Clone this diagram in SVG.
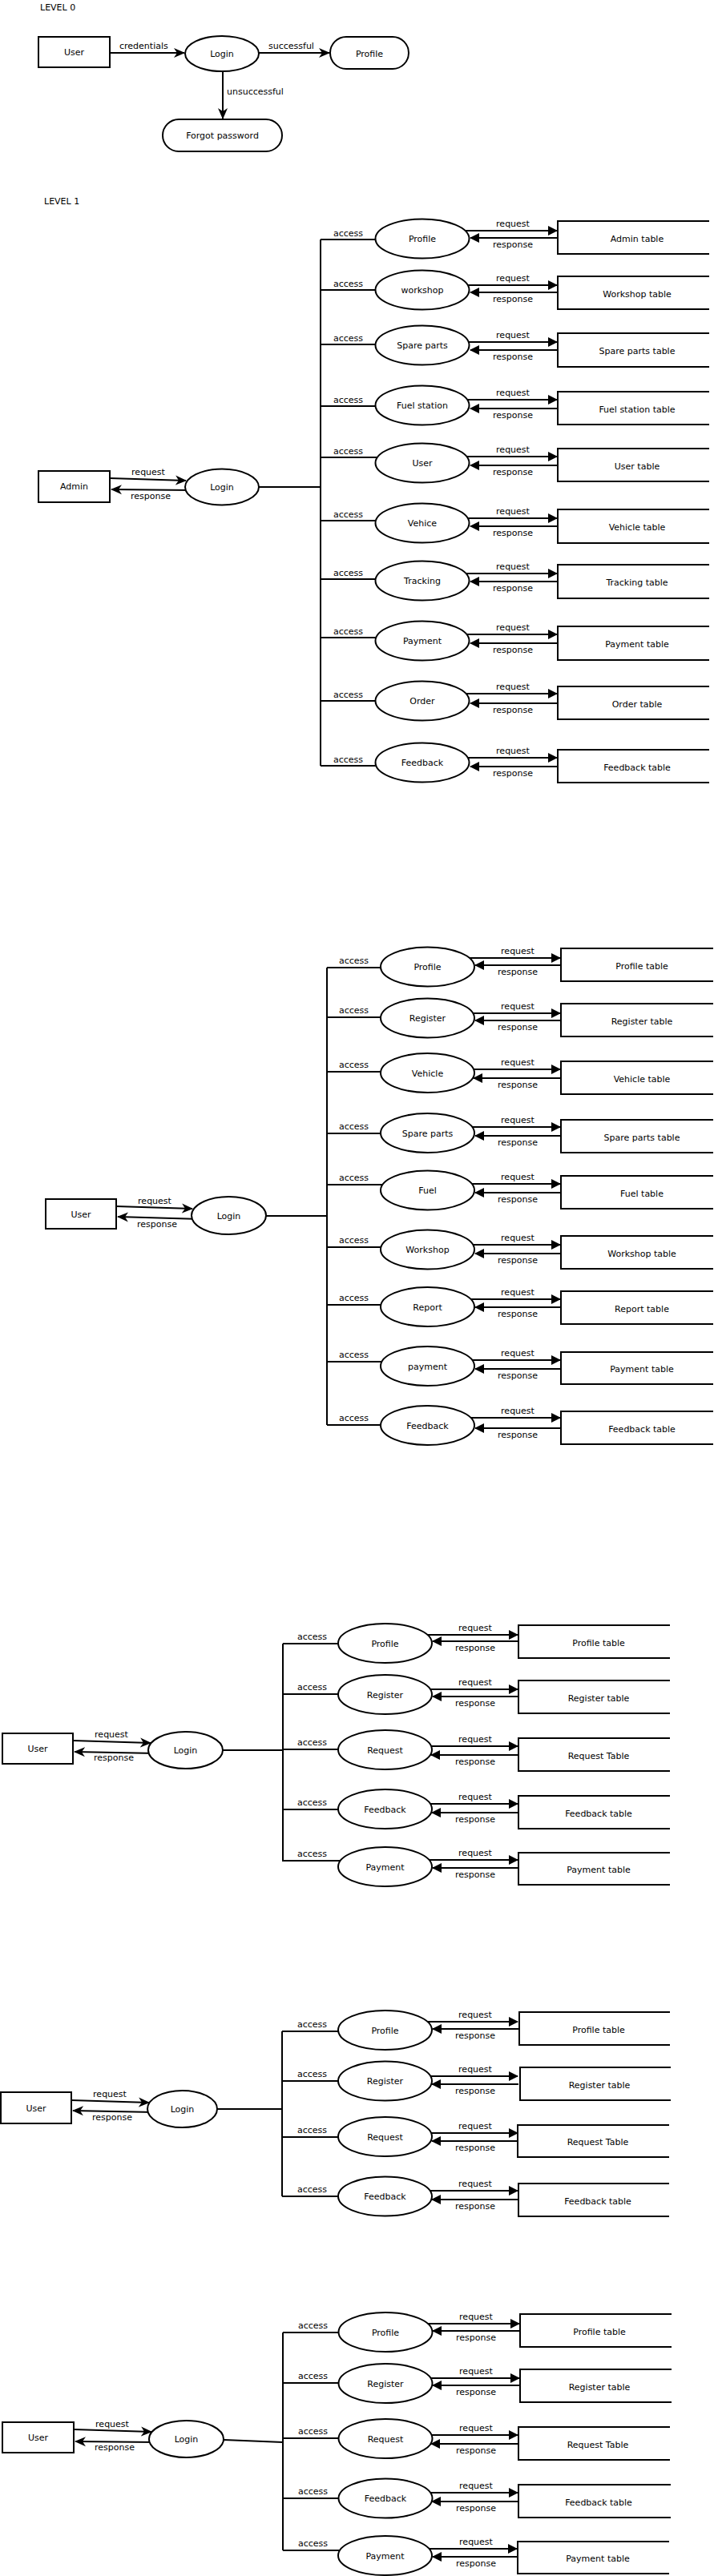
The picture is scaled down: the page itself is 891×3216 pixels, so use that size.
<svg xmlns="http://www.w3.org/2000/svg" width="891" height="3216" viewBox="0 0 891 3216">
<style>
text{font-family:"DejaVu Sans",Verdana,"Liberation Sans",sans-serif;font-size:11px;fill:#000}
.m{text-anchor:middle}
.n{fill:#fff;stroke:#000;stroke-width:2}
.c{fill:none;stroke:#000;stroke-width:2}
.t{fill:none;stroke:#000;stroke-width:2}
</style>
<defs>
<marker id="tri" markerUnits="userSpaceOnUse" markerWidth="13" markerHeight="13" refX="11" refY="6" orient="auto"><path d="M0,0 L12,6 L0,12 z" fill="#000"/></marker>
<marker id="st" markerUnits="userSpaceOnUse" markerWidth="15" markerHeight="15" refX="13" refY="7" orient="auto"><path d="M0,1 L14,7 L0,13 L4,7 z" fill="#000"/></marker>
</defs>
<rect width="891" height="3216" fill="#fff"/>

<!-- LEVEL 0 -->
<text x="50" y="13">LEVEL 0</text>
<g id="l0-connectors">
<path class="c" d="M137,66H230" marker-end="url(#st)"/>
<text x="149" y="61">credentials</text>
<path class="c" d="M323,66H411" marker-end="url(#st)"/>
<text x="335" y="61">successful</text>
<path class="c" d="M278,89V148" marker-end="url(#st)"/>
<text x="283" y="118">unsuccessful</text>
</g>
<g id="l0-user"><rect class="n" x="48" y="46" width="89" height="38"/><text class="m" x="92.5" y="69">User</text></g>
<g id="l0-login"><ellipse class="n" cx="277" cy="67" rx="46" ry="22"/><text class="m" x="277" y="71">Login</text></g>
<g id="l0-profile"><rect class="n" x="412" y="46" width="98" height="40" rx="20"/><text class="m" x="461" y="71">Profile</text></g>
<g id="l0-forgot"><rect class="n" x="203" y="149" width="149" height="40" rx="20"/><text class="m" x="277.5" y="173">Forgot password</text></g>

<!-- LEVEL 1 -->
<text x="55" y="255">LEVEL 1</text>
<g id="l1-connectors">
<path class="c" d="M137,597L232,600" marker-end="url(#st)"/>
<text class="m" x="185" y="593">request</text>
<path class="c" d="M240,612L139,611" marker-end="url(#st)"/>
<text class="m" x="188" y="623">response</text>
<path class="c" d="M300,608H400M400,299V956"/>
<path class="c" d="M400,299H482M400,362H482M400,430H482M400,507H482M400,571H482M400,650H482M400,723H482M400,796H482M400,875H482M400,956H482"/>
<text x="416" y="295">access</text><text x="416" y="358">access</text><text x="416" y="426">access</text><text x="416" y="503">access</text><text x="416" y="567">access</text><text x="416" y="646">access</text><text x="416" y="719">access</text><text x="416" y="792">access</text><text x="416" y="871">access</text><text x="416" y="952">access</text>
<g marker-end="url(#tri)">
<path class="c" d="M575,288H695"/><path class="c" d="M696,297H587"/>
<path class="c" d="M575,356H695"/><path class="c" d="M696,365H587"/>
<path class="c" d="M575,427H695"/><path class="c" d="M696,437H587"/>
<path class="c" d="M575,499H695"/><path class="c" d="M696,510H587"/>
<path class="c" d="M575,570H695"/><path class="c" d="M696,581H587"/>
<path class="c" d="M575,647H695"/><path class="c" d="M696,657H587"/>
<path class="c" d="M575,716H695"/><path class="c" d="M696,726H587"/>
<path class="c" d="M575,792H695"/><path class="c" d="M696,803H587"/>
<path class="c" d="M575,866H695"/><path class="c" d="M696,878H587"/>
<path class="c" d="M575,946H695"/><path class="c" d="M696,957H587"/>
</g>
<text class="m" x="640" y="283">request</text><text class="m" x="640" y="309">response</text>
<text class="m" x="640" y="351">request</text><text class="m" x="640" y="377">response</text>
<text class="m" x="640" y="422">request</text><text class="m" x="640" y="449">response</text>
<text class="m" x="640" y="494">request</text><text class="m" x="640" y="522">response</text>
<text class="m" x="640" y="565">request</text><text class="m" x="640" y="593">response</text>
<text class="m" x="640" y="642">request</text><text class="m" x="640" y="669">response</text>
<text class="m" x="640" y="711">request</text><text class="m" x="640" y="738">response</text>
<text class="m" x="640" y="787">request</text><text class="m" x="640" y="815">response</text>
<text class="m" x="640" y="861">request</text><text class="m" x="640" y="890">response</text>
<text class="m" x="640" y="941">request</text><text class="m" x="640" y="969">response</text>
</g>
<g id="l1-admin"><rect class="n" x="48" y="588" width="89" height="39"/><text class="m" x="92.5" y="611">Admin</text></g>
<g id="l1-login"><ellipse class="n" cx="277" cy="608" rx="46" ry="22.5"/><text class="m" x="277" y="612">Login</text></g>
<g id="l1-p1"><ellipse class="n" cx="527" cy="298" rx="58.5" ry="24.5"/><text class="m" x="527" y="302">Profile</text></g>
<g id="l1-p2"><ellipse class="n" cx="527" cy="362" rx="58.5" ry="24.5"/><text class="m" x="527" y="366">workshop</text></g>
<g id="l1-p3"><ellipse class="n" cx="527" cy="431" rx="58.5" ry="24.5"/><text class="m" x="527" y="435">Spare parts</text></g>
<g id="l1-p4"><ellipse class="n" cx="527" cy="506" rx="58.5" ry="24.5"/><text class="m" x="527" y="510">Fuel station</text></g>
<g id="l1-p5"><ellipse class="n" cx="527" cy="578" rx="58.5" ry="24.5"/><text class="m" x="527" y="582">User</text></g>
<g id="l1-p6"><ellipse class="n" cx="527" cy="653" rx="58.5" ry="24.5"/><text class="m" x="527" y="657">Vehice</text></g>
<g id="l1-p7"><ellipse class="n" cx="527" cy="725" rx="58.5" ry="24.5"/><text class="m" x="527" y="729">Tracking</text></g>
<g id="l1-p8"><ellipse class="n" cx="527" cy="800" rx="58.5" ry="24.5"/><text class="m" x="527" y="804">Payment</text></g>
<g id="l1-p9"><ellipse class="n" cx="527" cy="875" rx="58.5" ry="24.5"/><text class="m" x="527" y="879">Order</text></g>
<g id="l1-p10"><ellipse class="n" cx="527" cy="952" rx="58.5" ry="24.5"/><text class="m" x="527" y="956">Feedback</text></g>
<g id="l1-t1"><path class="t" d="M885,276H696V317H885"/><text class="m" x="795" y="301.5">Admin table</text></g>
<g id="l1-t2"><path class="t" d="M885,345H696V386H885"/><text class="m" x="795" y="370.5">Workshop table</text></g>
<g id="l1-t3"><path class="t" d="M885,416H696V458H885"/><text class="m" x="795" y="442">Spare parts table</text></g>
<g id="l1-t4"><path class="t" d="M885,489H696V530H885"/><text class="m" x="795" y="514.5">Fuel station table</text></g>
<g id="l1-t5"><path class="t" d="M885,560H696V601H885"/><text class="m" x="795" y="585.5">User table</text></g>
<g id="l1-t6"><path class="t" d="M885,636H696V678H885"/><text class="m" x="795" y="662">Vehicle table</text></g>
<g id="l1-t7"><path class="t" d="M885,705H696V747H885"/><text class="m" x="795" y="731">Tracking table</text></g>
<g id="l1-t8"><path class="t" d="M885,782H696V824H885"/><text class="m" x="795" y="808">Payment table</text></g>
<g id="l1-t9"><path class="t" d="M885,857H696V898H885"/><text class="m" x="795" y="882.5">Order table</text></g>
<g id="l1-t10"><path class="t" d="M885,936H696V977H885"/><text class="m" x="795" y="961.5">Feedback table</text></g>

<!-- SECTION 3 -->
<g id="s3-connectors">
<path class="c" d="M145,1506L240,1509" marker-end="url(#st)"/>
<text class="m" x="193" y="1503">request</text>
<path class="c" d="M250,1522L147,1519" marker-end="url(#st)"/>
<text class="m" x="196" y="1532">response</text>
<path class="c" d="M300,1518H408M408,1208V1779"/>
<path class="c" d="M408,1208H489M408,1270H489M408,1338H489M408,1415H489M408,1479H489M408,1557H489M408,1629H489M408,1700H489M408,1779H489"/>
<text x="423" y="1203">access</text><text x="423" y="1265">access</text><text x="423" y="1333">access</text><text x="423" y="1410">access</text><text x="423" y="1474">access</text><text x="423" y="1552">access</text><text x="423" y="1624">access</text><text x="423" y="1695">access</text><text x="423" y="1774">access</text>
<g marker-end="url(#tri)">
<path class="c" d="M581,1196H699"/><path class="c" d="M700,1205H593"/>
<path class="c" d="M581,1265H699"/><path class="c" d="M700,1274H593"/>
<path class="c" d="M581,1335H699"/><path class="c" d="M700,1346H591"/>
<path class="c" d="M581,1407H699"/><path class="c" d="M700,1418H593"/>
<path class="c" d="M581,1478H699"/><path class="c" d="M700,1489H593"/>
<path class="c" d="M581,1554H699"/><path class="c" d="M700,1565H593"/>
<path class="c" d="M581,1622H699"/><path class="c" d="M700,1632H593"/>
<path class="c" d="M581,1698H699"/><path class="c" d="M700,1709H593"/>
<path class="c" d="M581,1770H699"/><path class="c" d="M700,1783H593"/>
</g>
<text class="m" x="646" y="1191">request</text><text class="m" x="646" y="1217">response</text>
<text class="m" x="646" y="1260">request</text><text class="m" x="646" y="1286">response</text>
<text class="m" x="646" y="1330">request</text><text class="m" x="646" y="1358">response</text>
<text class="m" x="646" y="1402">request</text><text class="m" x="646" y="1430">response</text>
<text class="m" x="646" y="1473">request</text><text class="m" x="646" y="1501">response</text>
<text class="m" x="646" y="1549">request</text><text class="m" x="646" y="1577">response</text>
<text class="m" x="646" y="1617">request</text><text class="m" x="646" y="1644">response</text>
<text class="m" x="646" y="1693">request</text><text class="m" x="646" y="1721">response</text>
<text class="m" x="646" y="1765">request</text><text class="m" x="646" y="1795">response</text>
</g>
<g id="s3-user"><rect class="n" x="57" y="1497" width="88" height="37"/><text class="m" x="101" y="1520">User</text></g>
<g id="s3-login"><ellipse class="n" cx="285.5" cy="1517.5" rx="46.5" ry="23.5"/><text class="m" x="285.5" y="1521.5">Login</text></g>
<g id="s3-p1"><ellipse class="n" cx="533.5" cy="1207" rx="58.5" ry="24.5"/><text class="m" x="533.5" y="1211">Profile</text></g>
<g id="s3-p2"><ellipse class="n" cx="533.5" cy="1271" rx="58.5" ry="24.5"/><text class="m" x="533.5" y="1275">Register</text></g>
<g id="s3-p3"><ellipse class="n" cx="533.5" cy="1339.5" rx="58.5" ry="24.5"/><text class="m" x="533.5" y="1343.5">Vehicle</text></g>
<g id="s3-p4"><ellipse class="n" cx="533.5" cy="1414.5" rx="58.5" ry="24.5"/><text class="m" x="533.5" y="1418.5">Spare parts</text></g>
<g id="s3-p5"><ellipse class="n" cx="533.5" cy="1486" rx="58.5" ry="24.5"/><text class="m" x="533.5" y="1490">Fuel</text></g>
<g id="s3-p6"><ellipse class="n" cx="533.5" cy="1560" rx="58.5" ry="24.5"/><text class="m" x="533.5" y="1564">Workshop</text></g>
<g id="s3-p7"><ellipse class="n" cx="533.5" cy="1631.5" rx="58.5" ry="24.5"/><text class="m" x="533.5" y="1635.5">Report</text></g>
<g id="s3-p8"><ellipse class="n" cx="533.5" cy="1705.5" rx="58.5" ry="24.5"/><text class="m" x="533.5" y="1709.5">payment</text></g>
<g id="s3-p9"><ellipse class="n" cx="533.5" cy="1779.5" rx="58.5" ry="24.5"/><text class="m" x="533.5" y="1783.5">Feedback</text></g>
<g id="s3-t1"><path class="t" d="M890,1184H700V1225H890"/><text class="m" x="801" y="1209.5">Profile table</text></g>
<g id="s3-t2"><path class="t" d="M890,1253H700V1294H890"/><text class="m" x="801" y="1278.5">Register table</text></g>
<g id="s3-t3"><path class="t" d="M890,1325H700V1366H890"/><text class="m" x="801" y="1350.5">Vehicle table</text></g>
<g id="s3-t4"><path class="t" d="M890,1398H700V1439H890"/><text class="m" x="801" y="1423.5">Spare parts table</text></g>
<g id="s3-t5"><path class="t" d="M890,1468H700V1509H890"/><text class="m" x="801" y="1493.5">Fuel table</text></g>
<g id="s3-t6"><path class="t" d="M890,1543H700V1584H890"/><text class="m" x="801" y="1568.5">Workshop table</text></g>
<g id="s3-t7"><path class="t" d="M890,1612H700V1653H890"/><text class="m" x="801" y="1637.5">Report table</text></g>
<g id="s3-t8"><path class="t" d="M890,1688H700V1728H890"/><text class="m" x="801" y="1713">Payment table</text></g>
<g id="s3-t9"><path class="t" d="M890,1762H700V1803H890"/><text class="m" x="801" y="1787.5">Feedback table</text></g>

<!-- SECTION 4 -->
<g id="s4-connectors">
<path class="c" d="M91,2173L188,2176" marker-end="url(#st)"/>
<text class="m" x="139" y="2169">request</text>
<path class="c" d="M195,2189L93,2187" marker-end="url(#st)"/>
<text class="m" x="142" y="2198">response</text>
<path class="c" d="M250,2185H353M353,2052V2324"/>
<path class="c" d="M353,2052H436M353,2115H436M353,2184H436M353,2259H436M353,2323H436"/>
<text x="371" y="2047">access</text><text x="371" y="2110">access</text><text x="371" y="2179">access</text><text x="371" y="2254">access</text><text x="371" y="2318">access</text>
<g marker-end="url(#tri)">
<path class="c" d="M528,2041H646"/><path class="c" d="M647,2049H540"/>
<path class="c" d="M528,2109H646"/><path class="c" d="M647,2118H540"/>
<path class="c" d="M528,2180H646"/><path class="c" d="M647,2191H538"/>
<path class="c" d="M528,2252H646"/><path class="c" d="M647,2263H539"/>
<path class="c" d="M528,2322H646"/><path class="c" d="M647,2332H540"/>
</g>
<text class="m" x="593" y="2036">request</text><text class="m" x="593" y="2061">response</text>
<text class="m" x="593" y="2104">request</text><text class="m" x="593" y="2130">response</text>
<text class="m" x="593" y="2175">request</text><text class="m" x="593" y="2203">response</text>
<text class="m" x="593" y="2247">request</text><text class="m" x="593" y="2275">response</text>
<text class="m" x="593" y="2317">request</text><text class="m" x="593" y="2344">response</text>
</g>
<g id="s4-user"><rect class="n" x="3" y="2164" width="88" height="38"/><text class="m" x="47" y="2187">User</text></g>
<g id="s4-login"><ellipse class="n" cx="231.5" cy="2185" rx="46.5" ry="23"/><text class="m" x="231.5" y="2189">Login</text></g>
<g id="s4-p1"><ellipse class="n" cx="480.5" cy="2051.5" rx="58.5" ry="24.5"/><text class="m" x="480.5" y="2055.5">Profile</text></g>
<g id="s4-p2"><ellipse class="n" cx="480.5" cy="2115.5" rx="58.5" ry="24.5"/><text class="m" x="480.5" y="2119.5">Register</text></g>
<g id="s4-p3"><ellipse class="n" cx="480.5" cy="2184.5" rx="58.5" ry="24.5"/><text class="m" x="480.5" y="2188.5">Request</text></g>
<g id="s4-p4"><ellipse class="n" cx="480.5" cy="2258.5" rx="58.5" ry="24.5"/><text class="m" x="480.5" y="2262.5">Feedback</text></g>
<g id="s4-p5"><ellipse class="n" cx="480.5" cy="2330.5" rx="58.5" ry="24.5"/><text class="m" x="480.5" y="2334.5">Payment</text></g>
<g id="s4-t1"><path class="t" d="M836,2029H647V2070H836"/><text class="m" x="747" y="2054.5">Profile table</text></g>
<g id="s4-t2"><path class="t" d="M836,2098H647V2139H836"/><text class="m" x="747" y="2123.5">Register table</text></g>
<g id="s4-t3"><path class="t" d="M836,2170H647V2211H836"/><text class="m" x="747" y="2195.5">Request Table</text></g>
<g id="s4-t4"><path class="t" d="M836,2242H647V2283H836"/><text class="m" x="747" y="2267.5">Feedback table</text></g>
<g id="s4-t5"><path class="t" d="M836,2313H647V2353H836"/><text class="m" x="747" y="2338">Payment table</text></g>

<!-- SECTION 5 -->
<g id="s5-connectors">
<path class="c" d="M89,2622L186,2625" marker-end="url(#st)"/>
<text class="m" x="137" y="2618">request</text>
<path class="c" d="M192,2637L91,2635" marker-end="url(#st)"/>
<text class="m" x="140" y="2647">response</text>
<path class="c" d="M250,2633H352M352,2536V2742"/>
<path class="c" d="M352,2536H436M352,2598H436M352,2668H436M352,2742H436"/>
<text x="371" y="2531">access</text><text x="371" y="2593">access</text><text x="371" y="2663">access</text><text x="371" y="2737">access</text>
<g marker-end="url(#tri)">
<path class="c" d="M528,2524H646"/><path class="c" d="M647,2533H540"/>
<path class="c" d="M528,2592H646"/><path class="c" d="M647,2602H539"/>
<path class="c" d="M528,2663H646"/><path class="c" d="M647,2673H539"/>
<path class="c" d="M528,2735H646"/><path class="c" d="M647,2746H539"/>
</g>
<text class="m" x="593" y="2519">request</text><text class="m" x="593" y="2545">response</text>
<text class="m" x="593" y="2587">request</text><text class="m" x="593" y="2614">response</text>
<text class="m" x="593" y="2658">request</text><text class="m" x="593" y="2685">response</text>
<text class="m" x="593" y="2730">request</text><text class="m" x="593" y="2758">response</text>
</g>
<g id="s5-user"><rect class="n" x="1" y="2612" width="88" height="39"/><text class="m" x="45" y="2635.5">User</text></g>
<g id="s5-login"><ellipse class="n" cx="227.5" cy="2633" rx="43.5" ry="23"/><text class="m" x="227.5" y="2637">Login</text></g>
<g id="s5-p1"><ellipse class="n" cx="480.5" cy="2534.5" rx="58.5" ry="24.5"/><text class="m" x="480.5" y="2538.5">Profile</text></g>
<g id="s5-p2"><ellipse class="n" cx="480.5" cy="2598" rx="58.5" ry="24.5"/><text class="m" x="480.5" y="2602">Register</text></g>
<g id="s5-p3"><ellipse class="n" cx="480.5" cy="2667.5" rx="58.5" ry="24.5"/><text class="m" x="480.5" y="2671.5">Request</text></g>
<g id="s5-p4"><ellipse class="n" cx="480.5" cy="2742" rx="58.5" ry="24.5"/><text class="m" x="480.5" y="2746">Feedback</text></g>
<g id="s5-t1"><path class="t" d="M836,2512H648V2553H836"/><text class="m" x="747" y="2537.5">Profile table</text></g>
<g id="s5-t2"><path class="t" d="M837,2581H649V2622H837"/><text class="m" x="748" y="2606.5">Register table</text></g>
<g id="s5-t3"><path class="t" d="M835,2653H646V2693H835"/><text class="m" x="746" y="2678">Request Table</text></g>
<g id="s5-t4"><path class="t" d="M835,2726H647V2767H835"/><text class="m" x="746" y="2751.5">Feedback table</text></g>

<!-- SECTION 6 -->
<g id="s6-connectors">
<path class="c" d="M92,3033L189,3036" marker-end="url(#st)"/>
<text class="m" x="140" y="3030">request</text>
<path class="c" d="M196,3049L94,3048" marker-end="url(#st)"/>
<text class="m" x="143" y="3059">response</text>
<path class="c" d="M255,3045L353,3049M353,2912V3184"/>
<path class="c" d="M353,2912H436M353,2975H436M353,3044H436M353,3119H436M353,3184H436"/>
<text x="372" y="2907">access</text><text x="372" y="2970">access</text><text x="372" y="3039">access</text><text x="372" y="3114">access</text><text x="372" y="3179">access</text>
<g marker-end="url(#tri)">
<path class="c" d="M528,2901H648"/><path class="c" d="M649,2910H540"/>
<path class="c" d="M528,2969H648"/><path class="c" d="M649,2978H540"/>
<path class="c" d="M528,3040H646"/><path class="c" d="M647,3051H538"/>
<path class="c" d="M528,3112H646"/><path class="c" d="M647,3123H539"/>
<path class="c" d="M528,3182H645"/><path class="c" d="M646,3192H540"/>
</g>
<text class="m" x="594" y="2896">request</text><text class="m" x="594" y="2922">response</text>
<text class="m" x="594" y="2964">request</text><text class="m" x="594" y="2990">response</text>
<text class="m" x="594" y="3035">request</text><text class="m" x="594" y="3063">response</text>
<text class="m" x="594" y="3107">request</text><text class="m" x="594" y="3135">response</text>
<text class="m" x="594" y="3177">request</text><text class="m" x="594" y="3204">response</text>
</g>
<g id="s6-user"><rect class="n" x="3" y="3024" width="89" height="38"/><text class="m" x="47.5" y="3047">User</text></g>
<g id="s6-login"><ellipse class="n" cx="232.5" cy="3045" rx="46.5" ry="23"/><text class="m" x="232.5" y="3049">Login</text></g>
<g id="s6-p1"><ellipse class="n" cx="481" cy="2911.5" rx="58.5" ry="24.5"/><text class="m" x="481" y="2915.5">Profile</text></g>
<g id="s6-p2"><ellipse class="n" cx="481" cy="2975.5" rx="58.5" ry="24.5"/><text class="m" x="481" y="2979.5">Register</text></g>
<g id="s6-p3"><ellipse class="n" cx="481" cy="3044.5" rx="58.5" ry="24.5"/><text class="m" x="481" y="3048.5">Request</text></g>
<g id="s6-p4"><ellipse class="n" cx="481" cy="3119" rx="58.5" ry="24.5"/><text class="m" x="481" y="3123">Feedback</text></g>
<g id="s6-p5"><ellipse class="n" cx="480.5" cy="3190.5" rx="58.5" ry="24.5"/><text class="m" x="480.5" y="3194.5">Payment</text></g>
<g id="s6-t1"><path class="t" d="M838,2889H649V2930H838"/><text class="m" x="748" y="2914.5">Profile table</text></g>
<g id="s6-t2"><path class="t" d="M838,2958H649V2999H838"/><text class="m" x="748" y="2983.5">Register table</text></g>
<g id="s6-t3"><path class="t" d="M836,3030H647V3071H836"/><text class="m" x="746" y="3055.5">Request Table</text></g>
<g id="s6-t4"><path class="t" d="M837,3102H647V3143H837"/><text class="m" x="747" y="3127.5">Feedback table</text></g>
<g id="s6-t5"><path class="t" d="M835,3173H646V3213H835"/><text class="m" x="746" y="3198">Payment table</text></g>
</svg>
